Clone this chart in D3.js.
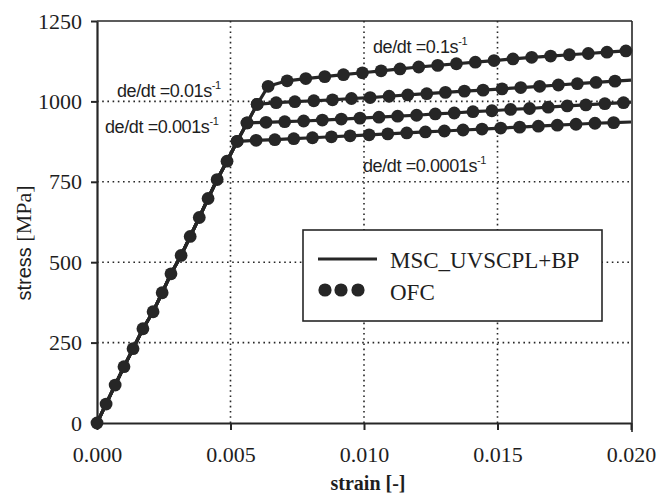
<!DOCTYPE html>
<html>
<head>
<meta charset="utf-8">
<script src="https://cdn.jsdelivr.net/npm/d3@7"></script>
<style>
  html, body { margin: 0; padding: 0; background: #ffffff; }
  svg { display: block; }
</style>
</head>
<body>
<svg id="chart" width="659" height="493"></svg>
<script>
// ---------------- DATA ----------------
const xTicks = [0, 0.005, 0.010, 0.015, 0.020];
const yTicks = [0, 250, 500, 750, 1000, 1250];

// shared elastic branch (strain [-], stress [MPa])
const elasticStrain = [0, 0.00034, 0.00068, 0.00101, 0.00135, 0.00172, 0.00210, 0.00244, 0.00277, 0.00315,
                       0.00349, 0.00383, 0.00416, 0.00450, 0.00487, 0.00525, 0.00562, 0.00600];
const elasticStress = [0, 59, 118, 175, 231, 293, 346, 405, 464, 521,
                       580, 639, 698, 757, 814, 876, 933, 991];

const rates = ["0.0001", "0.001", "0.01", "0.1"];

const strain_0001 = [0.00525, 0.00596, 0.00666, 0.00737, 0.00807, 0.00878, 0.00948, 0.01019, 0.01089, 0.01160,
                     0.01230, 0.01301, 0.01371, 0.01442, 0.01512, 0.01583, 0.01653, 0.01724, 0.01794, 0.01865, 0.01935];
const stress_0001 = [876, 879, 881, 884, 887, 890, 893, 896, 899, 902,
                     905, 908, 911, 914, 917, 920, 923, 926, 929, 932, 934];

const strain_001 = [0.00562, 0.00633, 0.00703, 0.00774, 0.00844, 0.00915, 0.00985, 0.01056, 0.01126, 0.01197,
                    0.01267, 0.01338, 0.01408, 0.01479, 0.01549, 0.01620, 0.01690, 0.01761, 0.01831, 0.01902, 0.01972];
const stress_001 = [933, 935, 937, 939, 942, 945, 948, 951, 954, 957,
                    961, 964, 968, 971, 975, 978, 982, 986, 989, 993, 996];

const strain_01 = [0.00600, 0.00671, 0.00741, 0.00812, 0.00882, 0.00953, 0.01023, 0.01094, 0.01164, 0.01235,
                   0.01305, 0.01376, 0.01446, 0.01517, 0.01587, 0.01658, 0.01728, 0.01799, 0.01869, 0.01940];
const stress_01 = [991, 996, 999, 1002, 1005, 1009, 1012, 1016, 1020, 1024,
                   1028, 1032, 1035, 1039, 1043, 1047, 1051, 1055, 1059, 1063];

const strain_1 = [0.00641, 0.00712, 0.00782, 0.00853, 0.00923, 0.00994, 0.01064, 0.01135, 0.01205, 0.01276,
                  0.01346, 0.01417, 0.01487, 0.01558, 0.01628, 0.01699, 0.01769, 0.01840, 0.01910, 0.01981];
const stress_1 = [1047, 1064, 1071, 1077, 1083, 1089, 1095, 1101, 1107, 1112,
                  1117, 1122, 1127, 1132, 1137, 1141, 1145, 1149, 1153, 1157];

// model (MSC line) end values at strain 0.020
const endStrain = 0.020;
const endStress = [936, 998, 1066, 1158];

const plateauStrain = [strain_0001, strain_001, strain_01, strain_1];
const plateauStress = [stress_0001, stress_001, stress_01, stress_1];

const legendLabels = ["MSC_UVSCPL+BP", "OFC"];

// ---------------- DRAW ----------------
const ink = "#262626";
const svg = d3.select("#chart");
svg.append("rect").attr("width", 659).attr("height", 493).attr("fill", "#ffffff");

const x = d3.scaleLinear().domain([0, 0.020]).range([97, 631]);
const y = d3.scaleLinear().domain([0, 1250]).range([423, 21]);

// grid (dotted)
const grid = svg.append("g");
grid.selectAll("line.gx").data(xTicks.slice(1, 4)).join("line")
  .attr("x1", d => x(d)).attr("x2", d => x(d))
  .attr("y1", y(1250)).attr("y2", y(0))
  .attr("stroke", ink).attr("stroke-width", 1.6).attr("stroke-dasharray", "1.6,3.6");
grid.selectAll("line.gy").data(yTicks.slice(1, 5)).join("line")
  .attr("x1", x(0)).attr("x2", x(0.020))
  .attr("y1", d => y(d)).attr("y2", d => y(d))
  .attr("stroke", ink).attr("stroke-width", 1.6).attr("stroke-dasharray", "1.6,3.6");

// frame: top and right
svg.append("line").attr("x1", x(0)).attr("x2", x(0.020) + 1).attr("y1", y(1250)).attr("y2", y(1250))
  .attr("stroke", ink).attr("stroke-width", 1.6);
svg.append("line").attr("x1", x(0.020) + 1).attr("x2", x(0.020) + 1).attr("y1", y(1250)).attr("y2", y(0) + 9)
  .attr("stroke", ink).attr("stroke-width", 1.6);

// axes
const axL = svg.append("g").attr("transform", `translate(${x(0)},0)`)
  .call(d3.axisLeft(y).tickValues(yTicks).tickSize(6).tickSizeOuter(0).tickPadding(9).tickFormat(d3.format("d")));
const axB = svg.append("g").attr("transform", `translate(0,${y(0)})`)
  .call(d3.axisBottom(x).tickValues(xTicks).tickSize(7).tickSizeOuter(0).tickPadding(16).tickFormat(d3.format(".3f")));
[axL, axB].forEach(a => {
  a.select(".domain").attr("stroke", ink).attr("stroke-width", 2.2);
  a.selectAll(".tick line").attr("stroke", ink).attr("stroke-width", 2);
  a.selectAll(".tick text").attr("fill", "#1e1e1e")
    .style("font-family", "'Liberation Serif', 'Times New Roman', serif").style("font-size", "22px");
});

// curves
const lineGen = d3.line().x(d => x(d[0])).y(d => y(d[1]));
const curves = rates.map((r, i) => {
  const ys = plateauStrain[i][0];
  const pts = [];
  elasticStrain.forEach((s, j) => { if (s < ys - 1e-6) pts.push([s, elasticStress[j]]); });
  plateauStrain[i].forEach((s, j) => pts.push([s, plateauStress[i][j]]));
  pts.push([endStrain, endStress[i]]);
  return pts;
});
svg.append("g").selectAll("path").data(curves).join("path")
  .attr("d", lineGen).attr("fill", "none").attr("stroke", ink).attr("stroke-width", 3.2)
  .attr("stroke-linejoin", "round");

// markers (experiment)
const markerPts = [];
elasticStrain.forEach((s, j) => markerPts.push([s, elasticStress[j]]));
plateauStrain.forEach((arr, i) => arr.forEach((s, j) => markerPts.push([s, plateauStress[i][j]])));
svg.append("g").selectAll("circle").data(markerPts).join("circle")
  .attr("cx", d => x(d[0])).attr("cy", d => y(d[1])).attr("r", 6.4).attr("fill", ink);

// rate annotations
const ann = [
  { t: "de/dt =0.01s", x: 117, y: 97 },
  { t: "de/dt =0.001s", x: 105, y: 133 },
  { t: "de/dt =0.1s", x: 373, y: 53 },
  { t: "de/dt =0.0001s", x: 363, y: 172 }
];
ann.forEach(a => {
  const t = svg.append("text").attr("x", a.x).attr("y", a.y).attr("fill", "#1e1e1e")
    .style("font-family", "'Liberation Sans', Arial, sans-serif").style("font-size", "18px")
    .style("letter-spacing", "-0.4px");
  t.append("tspan").text(a.t);
  t.append("tspan").attr("dy", -8).style("font-size", "11px").text("-1");
});

// legend
const lg = svg.append("g");
lg.append("rect").attr("x", 303).attr("y", 230).attr("width", 299).attr("height", 91)
  .attr("fill", "#ffffff").attr("stroke", ink).attr("stroke-width", 1.6);
lg.append("line").attr("x1", 318).attr("x2", 377).attr("y1", 259).attr("y2", 259)
  .attr("stroke", ink).attr("stroke-width", 3.2);
lg.selectAll("circle").data([325, 341, 358]).join("circle")
  .attr("cx", d => d).attr("cy", 290).attr("r", 6.6).attr("fill", ink);
lg.selectAll("text").data(legendLabels).join("text")
  .attr("x", 390).attr("y", (d, i) => i === 0 ? 268 : 300)
  .attr("fill", "#1e1e1e")
  .style("font-family", "'Liberation Serif', 'Times New Roman', serif").style("font-size", "23px")
  .text(d => d);

// axis titles
svg.append("text").attr("x", 368).attr("y", 490).attr("text-anchor", "middle").attr("fill", "#1e1e1e")
  .style("font-family", "'Liberation Serif', 'Times New Roman', serif").style("font-size", "20px")
  .style("font-weight", "bold").text("strain [-]");
const yt = svg.append("text").attr("transform", "translate(31,243) rotate(-90)").attr("text-anchor", "middle")
  .attr("fill", "#1e1e1e");
yt.append("tspan").style("font-family", "'Liberation Sans', Arial, sans-serif").style("font-size", "20px").text("stress ");
yt.append("tspan").style("font-family", "'Liberation Serif', 'Times New Roman', serif").style("font-size", "22px").text("[MPa]");
</script>
</body>
</html>
